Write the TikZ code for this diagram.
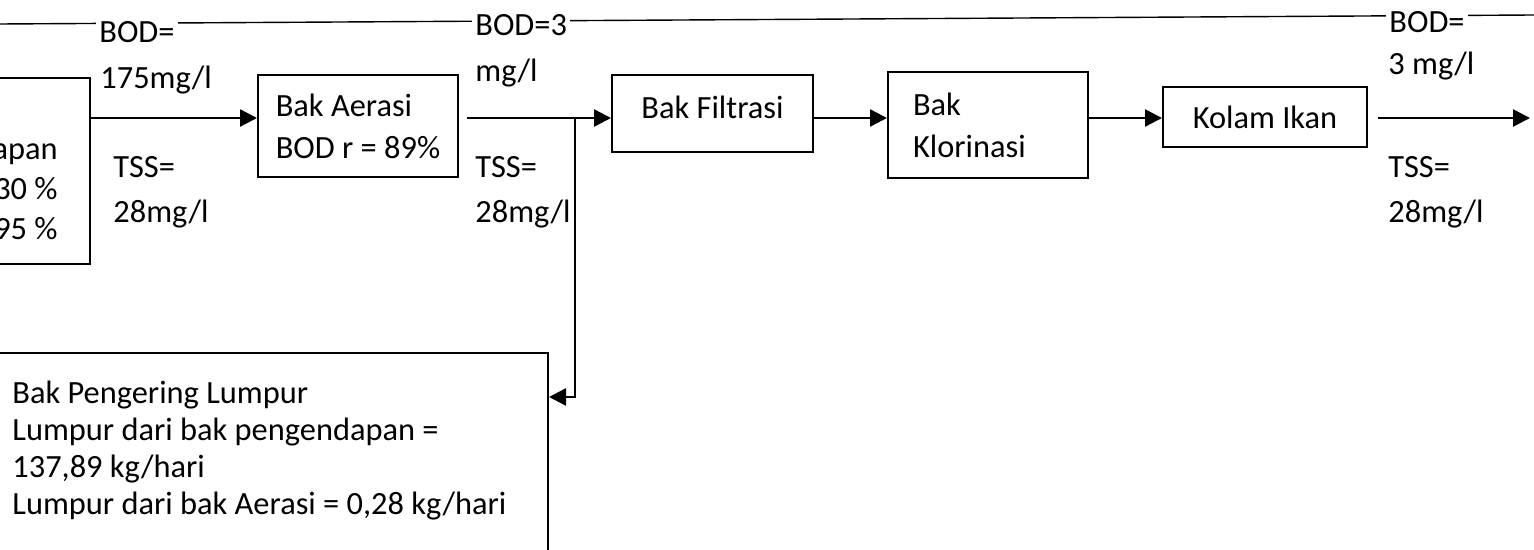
\documentclass[tikz,border=0pt]{standalone}
\usepackage{fontspec}
\setmainfont{Carlito}
\usetikzlibrary{arrows.meta}
\begin{document}
\begin{tikzpicture}[x=0.5pt,y=-0.5pt,
  every node/.style={font=\fontsize{16.2}{20}\selectfont},
  box/.style={draw, line width=1pt, inner sep=0pt},
  lbl/.style={anchor=west, inner sep=1pt},
  wlbl/.style={anchor=west, inner sep=1.5pt, fill=white},
  flow/.style={line width=1.2pt, -{Triangle[length=8.5pt,width=8.5pt]}},
  thin/.style={line width=0.7pt}]
\useasboundingbox (0,0) rectangle (1534,550);
\clip (0,0) rectangle (1534,550);
% level coordinates
\coordinate (lvl) at (0,118);
\coordinate (sl) at (0,397);
% top line
\coordinate (tl) at (0,24);
\coordinate (tr) at (1534,15);
\draw[thin] (tl) -- (tr);
% boxes
\node[box, minimum width=100pt, minimum height=93pt] (sed) at (-10,171) {};
\node[anchor=east, align=right, inner sep=0pt] (sedtext) at (58,192) {apan\\30 \%\\95 \%};
\node[box, minimum width=100pt, minimum height=51pt, align=left,
      font=\fontsize{16.2}{21}\selectfont] (aer) at (358,126) {Bak Aerasi\\BOD r = 89\%};
\node[box, minimum width=100.5pt, minimum height=38.5pt, text height=11.5pt, text depth=6pt] (fil) at (712.5,113.5) {Bak Filtrasi};
\node[box, minimum width=100pt, minimum height=53pt, inner xsep=12.5pt, text width=75pt, align=left,
      font=\fontsize{16.2}{21}\selectfont] (klo) at (988,125) {Bak\\Klorinasi};
\node[box, minimum width=102pt, minimum height=30pt] (kol) at (1265,117) {Kolam Ikan};
\node[box, minimum width=279pt, minimum height=124pt] (lum) at (269,477) {};
\node[anchor=north west, align=left, inner sep=0pt, font=\fontsize{16.2}{18.5}\selectfont] (lumtext) at (12,381)
  {Bak Pengering Lumpur\\Lumpur dari bak pengendapan =\\137,89 kg/hari\\Lumpur dari bak Aerasi = 0,28 kg/hari};
% labels
\node[wlbl] (b1) at (96,32) {BOD=};
\node[lbl] (b1v) at (98,80) {175mg/l};
\node[lbl] (t1) at (111,167) {TSS=};
\node[lbl] (t1v) at (111,214) {28mg/l};
\node[wlbl] (b2) at (472,25) {BOD=3};
\node[lbl] (b2v) at (473,73) {mg/l};
\node[lbl] (t2) at (473,167) {TSS=};
\node[lbl] (t2v) at (473,214) {28mg/l};
\node[wlbl] (b3) at (1386,22) {BOD=};
\node[lbl] (b3v) at (1386,66) {3 mg/l};
\node[lbl] (t3) at (1386,167) {TSS=};
\node[lbl] (t3v) at (1386,214) {28mg/l};
% connectors
\coordinate (jn) at (575,118);
\coordinate (out) at (1530,118);
\draw[flow] (sed.east |- lvl) -- (aer.west |- lvl);
\draw[flow] ([xshift=4pt]aer.east |- lvl) -- (fil.west |- lvl);
\draw[flow] (jn) |- (lum.east |- sl);
\draw[flow] (fil.east |- lvl) -- (klo.west |- lvl);
\draw[flow] (klo.east |- lvl) -- (kol.west |- lvl);
\draw[flow] ([xshift=5pt]kol.east |- lvl) -- (out);
\end{tikzpicture}
\end{document}
